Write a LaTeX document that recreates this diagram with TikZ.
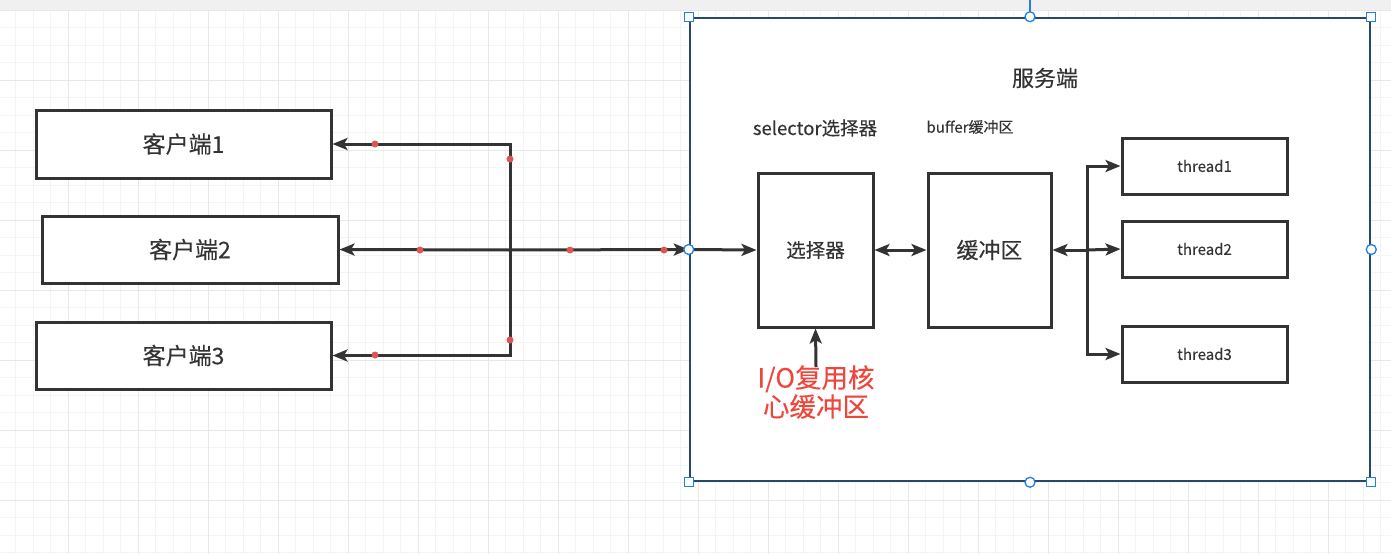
\documentclass[tikz,border=0pt]{standalone}
\usepackage{fontspec}
\setmainfont{Noto Sans CJK SC}[FakeBold=0.15]
\usetikzlibrary{arrows.meta}
\definecolor{ink}{HTML}{333333}
\definecolor{gridminor}{HTML}{F4F4F4}
\definecolor{gridmajor}{HTML}{E8E8E8}
\definecolor{band}{HTML}{F0F0F0}
\definecolor{frame}{HTML}{284868}
\definecolor{sel}{HTML}{1F7FE6}
\definecolor{wp}{HTML}{DD5555}
\definecolor{redtxt}{HTML}{F0453A}
\tikzset{
  box/.style={draw=ink, line width=3pt, fill=white, inner sep=0pt, text=ink},
  arr/.style={draw=ink, line width=3pt, -{Stealth[length=15pt,width=12pt,inset=3.5pt]}},
  arrb/.style={draw=ink, line width=3pt, {Stealth[length=15pt,width=12pt,inset=3.5pt]}-{Stealth[length=15pt,width=12pt,inset=3.5pt]}},
  sqh/.style={draw=sel, line width=1.3pt, fill=white, minimum size=9pt, inner sep=0pt},
  cih/.style={draw=sel, line width=1.3pt, fill=white, circle, minimum size=10pt, inner sep=0pt},
  wpt/.style={fill=wp, circle, minimum size=7pt, inner sep=0pt},
  lbl/.style={text=ink, inner sep=0pt}
}
\begin{document}
\begin{tikzpicture}[x=1pt,y=-1pt]
\useasboundingbox (0,0) rectangle (1391,554);
\fill[white] (0,0) rectangle (1391,554);
% grid
\foreach \i in {0,...,80} {
  \pgfmathsetmacro\gx{-2+17.5*\i}
  \draw[gridminor, line width=1pt] (\gx,10) -- (\gx,554);
}
\foreach \i in {0,...,31} {
  \pgfmathsetmacro\gy{10+17.5*\i}
  \draw[gridminor, line width=1pt] (0,\gy) -- (1391,\gy);
}
\foreach \i in {0,...,20} {
  \pgfmathsetmacro\gx{-2+70*\i}
  \draw[gridmajor, line width=1pt] (\gx,10) -- (\gx,554);
}
\foreach \i in {0,...,8} {
  \pgfmathsetmacro\gy{10+70*\i}
  \draw[gridmajor, line width=1pt] (0,\gy) -- (1391,\gy);
}
\fill[band] (0,0) rectangle (1391,10);

% server container
\node[draw=frame, line width=2.5pt, fill=white, minimum width=680pt, minimum height=463pt, inner sep=0pt] (server) at (1030,249.5) {};
\node[lbl, font=\fontsize{22}{26}\selectfont] (stitle) at (1045,78) {服务端};
\node[lbl, font=\fontsize{18.5}{22}\selectfont] (seltitle) at (815,128) {selector选择器};
\node[lbl, font=\fontsize{15}{18}\selectfont] (buftitle) at (970,127) {buffer缓冲区};

% clients
\node[box, minimum width=295pt, minimum height=68pt, font=\fontsize{23}{26}\selectfont] (c1) at (183.5,144) {客户端1};
\node[box, minimum width=296pt, minimum height=67pt, font=\fontsize{23}{26}\selectfont] (c2) at (190,249.5) {客户端2};
\node[box, minimum width=295pt, minimum height=67pt, font=\fontsize{23}{26}\selectfont] (c3) at (183.5,355.5) {客户端3};

% inner boxes
\node[box, minimum width=115pt, minimum height=154pt, font=\fontsize{19.5}{22}\selectfont] (selbox) at (815.5,250) {选择器};
\node[box, minimum width=123pt, minimum height=154pt, font=\fontsize{22}{25}\selectfont] (buf) at (989.5,250) {缓冲区};
\node[box, minimum width=165pt, minimum height=56pt, font=\fontsize{15}{18}\selectfont] (t1) at (1204.5,166) {thread1};
\node[box, minimum width=165pt, minimum height=56pt, font=\fontsize{15}{18}\selectfont] (t2) at (1204.5,249) {thread2};
\node[box, minimum width=165pt, minimum height=56pt, font=\fontsize{15}{18}\selectfont] (t3) at (1204.5,354) {thread3};

\node[text=redtxt, align=center, inner sep=0pt, font=\fontsize{26.5}{29}\selectfont] (io) at (816,392) {I/O复用核\\心缓冲区};

% junctions
\coordinate (j) at (510,250);
\coordinate (k) at (1087,250);
\coordinate (iotop) at (816,367);

% connectors
\draw[arr] (j) |- (c1.east);
\draw[arr] (j) |- (c3.east);
\draw[arr] (j) -- (c2.east);
\draw[arr] (j) -- (server.west);
\draw[draw=ink, line width=1.2pt] (j) -- (server.west);
\draw[arr] (server.west) -- (selbox.west);
\draw[arrb] (selbox.east) -- (buf.west);
\draw[arr] (k) -- (buf.east);
\draw[arr] (k) |- (t1.west);
\draw[arr] (k) -- (t2.west);
\draw[arr] (k) |- (t3.west);
\draw[arr] (iotop) -- (selbox.south);

% waypoint markers
\node[wpt] (w1) at (375,144) {};
\node[wpt] (w2) at (510,159) {};
\node[wpt] (w3) at (420,250) {};
\node[wpt] (w4) at (570,250) {};
\node[wpt] (w5) at (664,250) {};
\node[wpt] (w6) at (510,340) {};
\node[wpt] (w7) at (375,355) {};

% selection handles
\draw[sel, line width=1.3pt] (1030,0) -- (server.north);
\node[sqh] (h1) at (server.north west) {};
\node[sqh] (h2) at (server.north east) {};
\node[sqh] (h3) at (server.south west) {};
\node[sqh] (h4) at (server.south east) {};
\node[cih] (h5) at (server.north) {};
\node[cih] (h6) at (server.south) {};
\node[cih] (h7) at (server.west) {};
\node[cih] (h8) at (server.east) {};
\end{tikzpicture}
\end{document}
